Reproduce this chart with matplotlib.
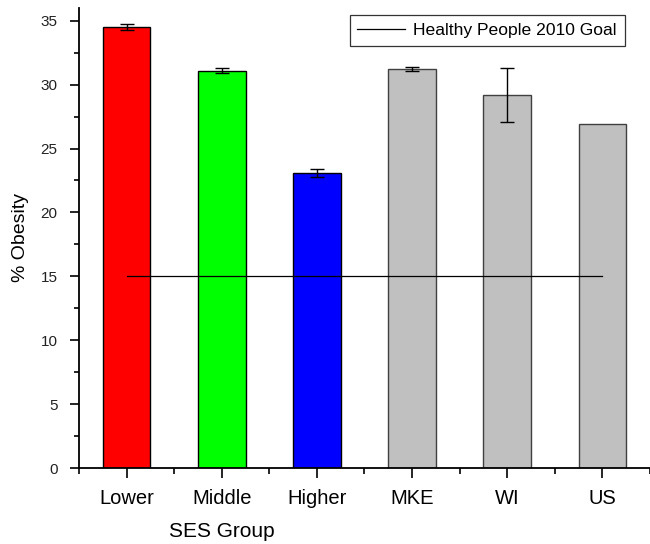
import matplotlib
matplotlib.use("Agg")
import matplotlib.pyplot as plt
from matplotlib.ticker import MultipleLocator
from matplotlib.lines import Line2D

plt.rcParams['font.family'] = ['Liberation Sans', 'DejaVu Sans']

categories = ["Lower", "Middle", "Higher", "MKE", "WI", "US"]
values = [34.5, 31.1, 23.1, 31.2, 29.2, 26.9]
errors = [0.25, 0.2, 0.3, 0.15, 2.1, 0.0]
colors = ["#FF0000", "#00FF00", "#0000FF", "#C0C0C0", "#C0C0C0", "#C0C0C0"]
edges = ["black", "black", "black", "#404040", "#404040", "#404040"]
goal = 15
goal_label = "Healthy People 2010 Goal"

fig = plt.figure(figsize=(6.5, 5.44), dpi=100)
ax = fig.add_axes([0.1215, 0.1397, 0.8785, 0.8456])

x = list(range(1, len(categories) + 1))
ax.bar(x, values, width=0.5, color=colors, edgecolor=edges, linewidth=1.0, zorder=2)
for xi, v, e in zip(x, values, errors):
    if e > 0:
        ax.errorbar(xi, v, yerr=e, fmt='none', ecolor='black', elinewidth=1,
                    capsize=5, capthick=1, zorder=3)

ax.plot([x[0], x[-1]], [goal, goal], color='black', linewidth=0.9, zorder=4)

ax.set_xlim(0.5, 6.5)
ax.set_ylim(0, 36)
ax.set_xticks(x)
ax.set_xticklabels(categories)
ax.xaxis.set_minor_locator(MultipleLocator(0.5))
ax.yaxis.set_major_locator(MultipleLocator(5))
ax.yaxis.set_minor_locator(MultipleLocator(2.5))
ax.tick_params(axis='y', which='major', direction='out', length=6.5, width=1.2,
               labelsize=11, pad=9, labelcolor='#222222')
ax.tick_params(axis='y', which='minor', direction='out', length=3.5, width=1.2)
ax.tick_params(axis='x', which='major', direction='out', length=7, width=1.2,
               labelsize=14.5, pad=8)
ax.tick_params(axis='x', which='minor', direction='out', length=4.5, width=1.2)

for s in ['top', 'right']:
    ax.spines[s].set_visible(False)
for s in ['left', 'bottom']:
    ax.spines[s].set_linewidth(1.3)

ax.set_ylabel("% Obesity", fontsize=14)
ax.yaxis.set_label_coords(-0.087, 0.5)
ax.set_xlabel("SES Group", fontsize=15)
ax.xaxis.set_label_coords(0.2504, -0.118)

handle = Line2D([0], [0], color='black', linewidth=0.9)
leg = ax.legend([handle], [goal_label], loc='upper right', bbox_to_anchor=(0.956, 0.985),
                borderaxespad=0, frameon=True, fancybox=False, edgecolor='black',
                fontsize=12.6, handlelength=2.7, borderpad=0.45, handletextpad=0.5)
leg.get_frame().set_linewidth(0.9)

fig.savefig("out.png", dpi=100)
